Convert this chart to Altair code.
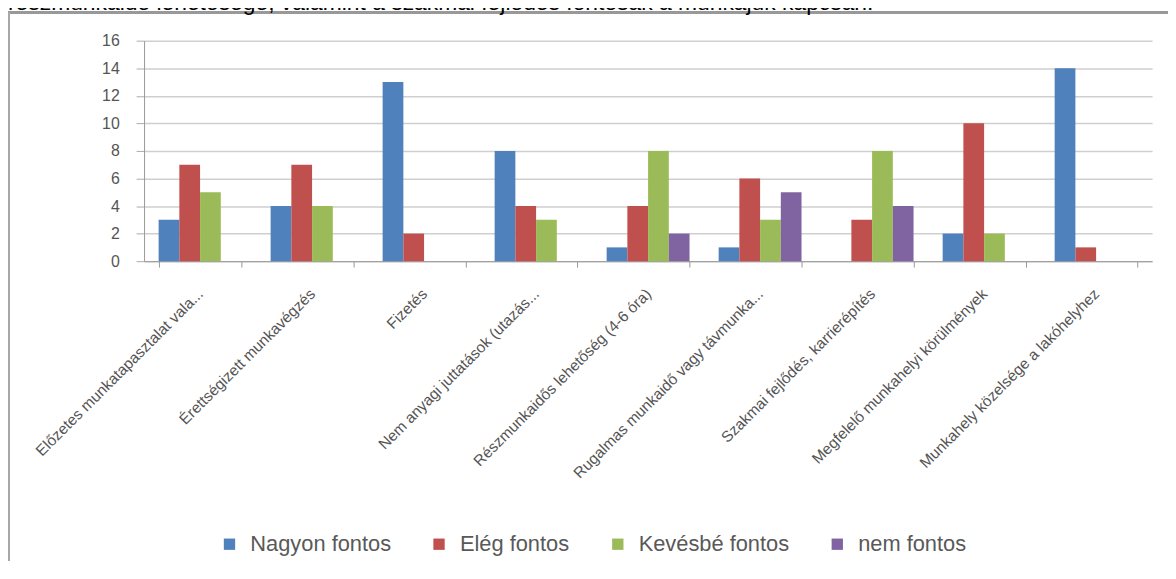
import altair as alt
import pandas as pd

categories = [
    "Előzetes munkatapasztalat vala...",
    "Érettségizett munkavégzés",
    "Fizetés",
    "Nem anyagi juttatások (utazás...",
    "Részmunkaidős lehetőség (4-6 óra)",
    "Rugalmas munkaidő vagy távmunka...",
    "Szakmai fejlődés, karrierépítés",
    "Megfelelő munkahelyi körülmények",
    "Munkahely közelsége a lakóhelyhez",
]
series = ["Nagyon fontos", "Elég fontos", "Kevésbé fontos", "nem fontos"]
nagyon = [3, 4, 13, 8, 1, 1, 0, 2, 14]
eleg = [7, 7, 2, 4, 4, 6, 3, 10, 1]
kevesbe = [5, 4, 0, 3, 8, 3, 8, 2, 0]
nem = [0, 0, 0, 0, 2, 5, 4, 0, 0]
colors = ["#4F81BD", "#C0504D", "#9BBB59", "#8064A2"]
title_text = "részmunkaidő lehetősége, valamint a szakmai fejlődés fontosak a munkájuk kapcsán."

rows = []
for vals, s in zip([nagyon, eleg, kevesbe, nem], series):
    for c, v in zip(categories, vals):
        rows.append({"cat": c, "series": s, "value": v})
df = pd.DataFrame(rows)

W, H = 1015, 222

bars = alt.Chart(df).mark_bar().encode(
    x=alt.X("cat:N", sort=categories, title=None,
            scale=alt.Scale(paddingInner=0.26, paddingOuter=0.13),
            axis=alt.Axis(labelAngle=-45, labelAlign="right", labelBaseline="middle",
                          labelFont="Liberation Sans", labelFontSize=15.5, labelColor="#555555",
                          labelPadding=24, tickBand="extent", tickSize=6, tickColor="#999999",
                          domainColor="#999999", grid=False, labelLimit=400)),
    xOffset=alt.XOffset("series:N", sort=series),
    y=alt.Y("value:Q", title=None,
            scale=alt.Scale(domain=[0, 16]),
            axis=alt.Axis(values=list(range(0, 17, 2)), labelFont="Liberation Sans",
                          labelFontSize=16, labelColor="#555555", labelPadding=17,
                          tickSize=8, tickColor="#aaaaaa", domainColor="#999999",
                          gridColor="#cfcfcf", gridWidth=1.5)),
    color=alt.Color("series:N", sort=series,
                    scale=alt.Scale(domain=series, range=colors),
                    legend=alt.Legend(title=None, orient="none", direction="horizontal",
                                      legendX=75, legendY=496, symbolType="square",
                                      symbolSize=130, symbolStrokeWidth=0,
                                      labelFont="Liberation Sans", labelFontSize=22,
                                      labelColor="#595959", columnPadding=37,
                                      labelOffset=10, labelLimit=400)),
)

frame_top = alt.Chart(df).mark_rule(color="#999999", strokeWidth=2.5).encode(
    x=alt.value(-137), x2=alt.value(1031), y=alt.value(-28)
)
frame_left = alt.Chart(df).mark_rule(color="#a8a8a8", strokeWidth=2).encode(
    x=alt.value(-136), y=alt.value(-28), y2=alt.value(560)
)
title = alt.Chart(pd.DataFrame({"t": [title_text]})).mark_text(
    align="left", baseline="alphabetic", fontSize=23, font="Liberation Sans", color="#000000"
).encode(x=alt.value(-137), y=alt.value(-31), text="t:N")

chart = alt.layer(frame_top, frame_left, title, bars).properties(
    width=W, height=H,
    padding={"left": 137, "top": 31, "right": 16, "bottom": 300},
    autosize=alt.AutoSizeParams(type="none"),
).configure_view(stroke=None)

chart.save("out.html", embed_options={"renderer": "svg", "actions": False})
